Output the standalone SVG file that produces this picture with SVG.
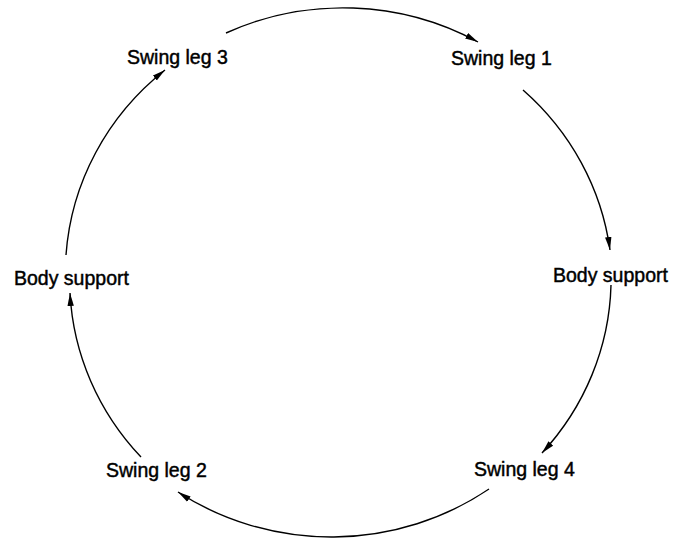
<svg xmlns="http://www.w3.org/2000/svg" width="687" height="542" viewBox="0 0 687 542">
<defs>
<marker id="ah" markerUnits="userSpaceOnUse" markerWidth="14" markerHeight="8" refX="13" refY="4" orient="auto">
<path d="M0,0.8 L13,4 L0,7.2 z" fill="#000"/>
</marker>
<style>
.lbl{font-family:"Liberation Sans",Arial,sans-serif;font-size:19.5px;fill:#000;stroke:#000;stroke-width:0.45}
.arc{fill:none;stroke:#000;stroke-width:1.4;marker-end:url(#ah)}
</style>
</defs>
<rect width="687" height="542" fill="#fff"/>
<g id="connectors">
<path class="arc" d="M226,33 A274,263 0 0,1 478,42"/>
<path class="arc" d="M523,90 A274,263 0 0,1 610,250"/>
<path class="arc" d="M611,285 A274,263 0 0,1 542,453"/>
<path class="arc" d="M489,489 A274,263 0 0,1 178,492"/>
<path class="arc" d="M141,457 A274,263 0 0,1 70,293"/>
<path class="arc" d="M66,255 A274,263 0 0,1 165,70"/>
</g>
<g id="swing3"><text class="lbl" x="127" y="64">Swing leg 3</text></g>
<g id="swing1"><text class="lbl" x="451" y="65">Swing leg 1</text></g>
<g id="body-right"><text class="lbl" x="553" y="282">Body support</text></g>
<g id="swing4"><text class="lbl" x="474" y="476">Swing leg 4</text></g>
<g id="swing2"><text class="lbl" x="106" y="477">Swing leg 2</text></g>
<g id="body-left"><text class="lbl" x="14" y="285">Body support</text></g>
</svg>
